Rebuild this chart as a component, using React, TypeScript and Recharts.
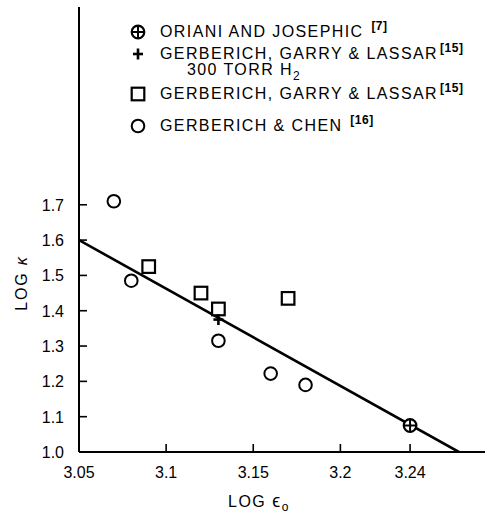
import React from 'react';
import { ScatterChart, Scatter, XAxis, YAxis } from 'recharts';

const orianiData = [{ x: 3.24, y: 1.075 }];
const gglPlusData = [{ x: 3.13, y: 1.375 }];
const gglSquareData = [
  { x: 3.09, y: 1.525 },
  { x: 3.12, y: 1.45 },
  { x: 3.13, y: 1.405 },
  { x: 3.17, y: 1.435 },
];
const chenData = [
  { x: 3.07, y: 1.71 },
  { x: 3.08, y: 1.485 },
  { x: 3.13, y: 1.315 },
  { x: 3.16, y: 1.222 },
  { x: 3.18, y: 1.19 },
];
const fitLine = [
  { x: 3.05, y: 1.6 },
  { x: 3.268, y: 1.0 },
];
const xTicks = [3.05, 3.1, 3.15, 3.2, 3.24];
const yTicks = [1.0, 1.1, 1.2, 1.3, 1.4, 1.5, 1.6, 1.7];

const FONT = '"Liberation Sans", Arial, Helvetica, sans-serif';

const CircleShape = (p: any) => (
  <circle cx={p.cx} cy={p.cy} r={6.3} fill="#fff" stroke="#000" strokeWidth={2} />
);
const SquareShape = (p: any) => (
  <rect x={p.cx - 6.3} y={p.cy - 6.3} width={12.6} height={12.6} fill="#fff" stroke="#000" strokeWidth={2.2} />
);
const PlusShape = (p: any) => (
  <g stroke="#000" strokeWidth={2.6}>
    <line x1={p.cx - 5} x2={p.cx + 5} y1={p.cy} y2={p.cy} />
    <line x1={p.cx} x2={p.cx} y1={p.cy - 5.5} y2={p.cy + 5.5} />
  </g>
);
const OPlusShape = (p: any) => (
  <g stroke="#000">
    <circle cx={p.cx} cy={p.cy} r={6.3} fill="#fff" strokeWidth={2.2} />
    <line x1={p.cx - 6.3} x2={p.cx + 6.3} y1={p.cy} y2={p.cy} strokeWidth={2} />
    <line x1={p.cx} x2={p.cx} y1={p.cy - 6.3} y2={p.cy + 6.3} strokeWidth={2} />
  </g>
);
const NoShape = () => <g />;

const XTick = (p: any) => {
  const { x, y, payload } = p;
  return (
    <g>
      <line x1={x} x2={x} y1={y} y2={y - 8} stroke="#000" strokeWidth={1.6} />
      <text x={x} y={y + 26} textAnchor="middle" fontSize={16} fontFamily={FONT} fill="#000">
        {String(payload.value)}
      </text>
    </g>
  );
};

const YTick = (p: any) => {
  const { x, y, payload } = p;
  return (
    <g>
      <line x1={x} x2={x + 8} y1={y} y2={y} stroke="#000" strokeWidth={1.6} />
      <text x={x - 15} y={y + 6} textAnchor="end" fontSize={16} fontFamily={FONT} fill="#000">
        {Number(payload.value).toFixed(1)}
      </text>
    </g>
  );
};

const legendText: React.CSSProperties = {
  position: 'absolute',
  fontFamily: FONT,
  fontSize: 16,
  letterSpacing: 1.4,
  color: '#000',
  whiteSpace: 'nowrap',
  lineHeight: '16px',
};
const sup: React.CSSProperties = {
  fontSize: 12,
  fontWeight: 'bold',
  letterSpacing: 0.5,
  position: 'relative',
  top: -7,
  marginLeft: 2,
};

const LegendSym = ({ kind, top }: { kind: string; top: number }) => (
  <svg style={{ position: 'absolute', left: 130, top: top - 8 }} width={16} height={16}>
    {kind === 'oplus' && <OPlusShape cx={8} cy={8} />}
    {kind === 'plus' && <PlusShape cx={8} cy={8} />}
    {kind === 'square' && <SquareShape cx={8} cy={8} />}
    {kind === 'circle' && <CircleShape cx={8} cy={8} />}
  </svg>
);

export default function App() {
  return (
    <div style={{ position: 'absolute', left: 0, top: 0, width: 485, height: 517, background: '#fff' }}>
      <ScatterChart width={485} height={517} margin={{ top: 7, right: 0, left: 0, bottom: 0 }}>
        <XAxis
          type="number"
          dataKey="x"
          domain={[3.05, 3.283]}
          allowDataOverflow
          ticks={xTicks}
          height={65}
          tickSize={0}
          tickMargin={0}
          tickLine={false}
          tick={<XTick />}
          axisLine={{ stroke: '#000', strokeWidth: 2 }}
          label={() => (
            <text x={228} y={507} fontSize={16} fontFamily={FONT} letterSpacing={1.5} fill="#000">
              LOG <tspan fontSize={18}>ϵ</tspan>
              <tspan dy={4} fontSize={12}>o</tspan>
            </text>
          )}
        />
        <YAxis
          type="number"
          dataKey="y"
          domain={[1.0, 2.26]}
          allowDataOverflow
          ticks={yTicks}
          width={79}
          tickSize={0}
          tickMargin={0}
          tickLine={false}
          tick={<YTick />}
          axisLine={{ stroke: '#000', strokeWidth: 2 }}
          label={() => (
            <text
              x={27}
              y={283}
              transform="rotate(-90 27 283)"
              textAnchor="middle"
              fontSize={16}
              fontFamily={FONT}
              letterSpacing={1.8}
              fill="#000"
            >
              LOG <tspan fontStyle="italic">κ</tspan>
            </text>
          )}
        />
        <Scatter data={fitLine} line={{ stroke: '#000', strokeWidth: 2.6 }} shape={NoShape} isAnimationActive={false} />
        <Scatter data={chenData} shape={CircleShape} isAnimationActive={false} />
        <Scatter data={gglSquareData} shape={SquareShape} isAnimationActive={false} />
        <Scatter data={gglPlusData} shape={PlusShape} isAnimationActive={false} />
        <Scatter data={orianiData} shape={OPlusShape} isAnimationActive={false} />
      </ScatterChart>
      <div style={{ position: 'absolute', left: 0, top: 0, width: 485, height: 150, pointerEvents: 'none' }}>
        <LegendSym kind="oplus" top={32} />
        <div style={{ ...legendText, left: 160, top: 24 }}>
          ORIANI AND JOSEPHIC <span style={sup}>[7]</span>
        </div>
        <LegendSym kind="plus" top={54} />
        <div style={{ ...legendText, left: 160, top: 46 }}>
          GERBERICH, GARRY &amp; LASSAR<span style={sup}>[15]</span>
        </div>
        <div style={{ ...legendText, left: 187, top: 62 }}>
          300 TORR H<span style={{ fontSize: 12, position: 'relative', top: 5 }}>2</span>
        </div>
        <LegendSym kind="square" top={94} />
        <div style={{ ...legendText, left: 160, top: 86 }}>
          GERBERICH, GARRY &amp; LASSAR<span style={sup}>[15]</span>
        </div>
        <LegendSym kind="circle" top={126} />
        <div style={{ ...legendText, left: 160, top: 118 }}>
          GERBERICH &amp; CHEN <span style={sup}>[16]</span>
        </div>
      </div>
    </div>
  );
}
